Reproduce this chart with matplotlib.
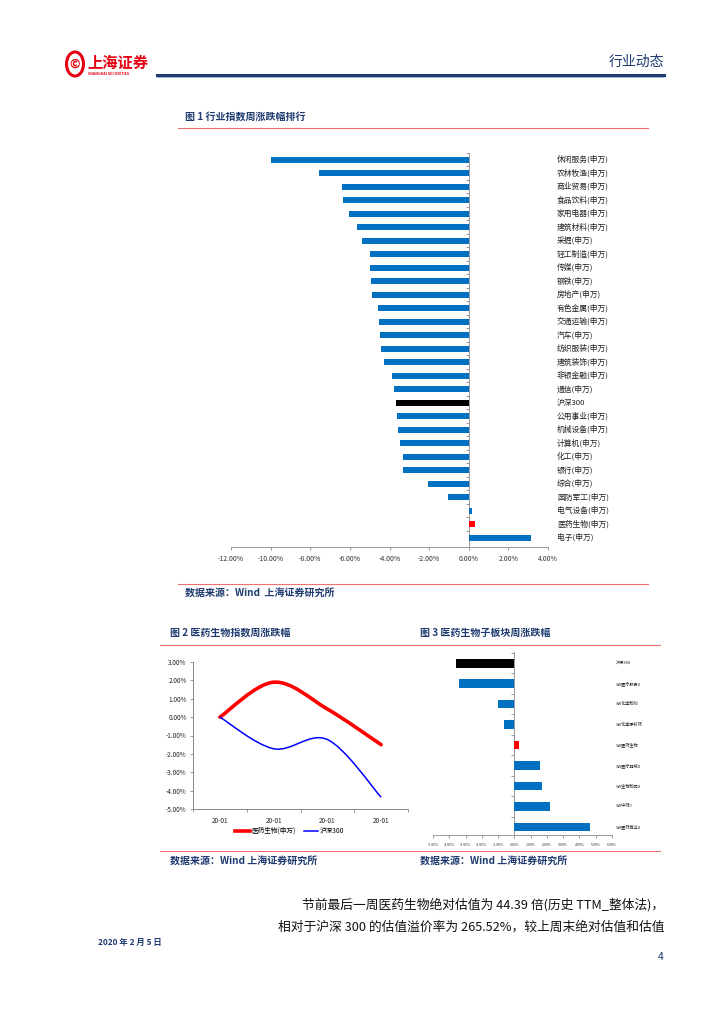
import matplotlib
matplotlib.use("Agg")
import matplotlib.pyplot as plt
from matplotlib.path import Path
from matplotlib.patches import PathPatch, Circle
import matplotlib.transforms as mtransforms

plt.rcParams['font.family'] = ['Noto Sans CJK SC', 'DejaVu Sans']

# figure 1: industry weekly change (%)
industries = ['休闲服务(申万)', '农林牧渔(申万)', '商业贸易(申万)', '食品饮料(申万)', '家用电器(申万)',
              '建筑材料(申万)', '采掘(申万)', '轻工制造(申万)', '传媒(申万)', '钢铁(申万)',
              '房地产(申万)', '有色金属(申万)', '交通运输(申万)', '汽车(申万)', '纺织服装(申万)',
              '建筑装饰(申万)', '非银金融(申万)', '通信(申万)', '沪深300', '公用事业(申万)',
              '机械设备(申万)', '计算机(申万)', '化工(申万)', '银行(申万)', '综合(申万)',
              '国防军工(申万)', '电气设备(申万)', '医药生物(申万)', '电子(申万)']
industry_chg = [-10.0, -7.58, -6.40, -6.36, -6.03, -5.66, -5.40, -5.00, -4.97, -4.92,
                -4.88, -4.58, -4.53, -4.48, -4.42, -4.29, -3.87, -3.79, -3.67, -3.64,
                -3.59, -3.45, -3.33, -3.30, -2.07, -1.03, 0.15, 0.33, 3.14]

# figure 2: index weekly trend (%)
dates = ['20-01', '20-01', '20-01', '20-01']
pharma_line = [0.0, 1.90, 0.44, -1.50]
hs300_line = [0.0, -1.72, -1.22, -4.36]

# figure 3: pharma sub-sector weekly change (%)
sub_sectors = ['沪深300', 'SW医疗服务II', 'SW化学制剂', 'SW化学原料药', 'SW医药生物',
               'SW医疗器械II', 'SW生物制品II', 'SW中药II', 'SW医药商业II']
sub_chg = [-3.59, -3.43, -0.98, -0.65, 0.31, 1.57, 1.67, 2.18, 4.67]

W, H = 724, 1024
NAVY = '#1f3b70'
BLUE = '#0070c0'
PINK = '#f07070'


def fx(px):
    return px / W


def fy(py):
    return 1 - py / H


def bar_colors(names):
    cols = []
    for n in names:
        if n == '沪深300':
            cols.append('black')
        elif '医药生物' in n:
            cols.append('red')
        else:
            cols.append(BLUE)
    return cols


def hline(fig, x0, x1, y, color, lw):
    fig.add_artist(plt.Line2D([fx(x0), fx(x1)], [fy(y), fy(y)], color=color, lw=lw,
                              transform=fig.transFigure))


def smooth_path(xs, ys):
    # Excel-like smoothed line: Catmull-Rom segments as cubic Bezier curves
    pts = list(zip(xs, ys))
    verts = [pts[0]]
    codes = [Path.MOVETO]
    n = len(pts)
    for i in range(n - 1):
        p0 = pts[max(i - 1, 0)]
        p1 = pts[i]
        p2 = pts[i + 1]
        p3 = pts[min(i + 2, n - 1)]
        c1 = (p1[0] + (p2[0] - p0[0]) / 6, p1[1] + (p2[1] - p0[1]) / 6)
        c2 = (p2[0] - (p3[0] - p1[0]) / 6, p2[1] - (p3[1] - p1[1]) / 6)
        verts += [c1, c2, p2]
        codes += [Path.CURVE4] * 3
    return Path(verts, codes)


def draw_hbar(fig, rect, names, values, xlim, xticks, tick_fs, label_fs, label_x, ylim, bar_h):
    ax = fig.add_axes(rect)
    pos = list(range(len(names)))
    ax.barh(pos, values, height=bar_h, color=bar_colors(names), zorder=3)
    ax.set_xlim(*xlim)
    ax.set_ylim(*ylim)
    ax.set_xticks(xticks)
    ax.set_xticklabels(['%.2f%%' % t for t in xticks], fontsize=tick_fs, color='#333333')
    ax.set_yticks([p + 0.5 for p in pos[:-1]] + [-0.5])
    ax.set_yticklabels([])
    ax.tick_params(axis='y', length=2, width=0.6, color='#888888', direction='out')
    ax.tick_params(axis='x', length=2.5, width=0.6, color='#888888', pad=3)
    for s in ['top', 'right']:
        ax.spines[s].set_visible(False)
    ax.spines['left'].set_position(('data', 0))
    for s in ['left', 'bottom']:
        ax.spines[s].set_color('#999999')
        ax.spines[s].set_linewidth(0.7)
    trans = mtransforms.blended_transform_factory(ax.transAxes, ax.transData)
    for p, n in zip(pos, names):
        ax.text(label_x, p, n, transform=trans, fontsize=label_fs, va='center', ha='left',
                color='#222222')
    return ax


def main():
    fig = plt.figure(figsize=(W / 100, H / 100), dpi=100)

    # header
    fig.add_artist(Circle((fx(75), fy(64)), 8.5 / W, transform=fig.transFigure,
                          facecolor='none', edgecolor='#e60012', lw=2.2))
    fig.text(fx(75), fy(64), '©', fontsize=9, color='#e60012', ha='center', va='center',
             fontweight='bold')
    fig.text(fx(87), fy(63), '上海证券', fontsize=11, color='#e60012', ha='left', va='center',
             fontweight='bold')
    fig.text(fx(88), fy(74), 'SHANGHAI SECURITIES', fontsize=2.6, color='#e60012', ha='left',
             va='center', fontweight='bold')
    fig.text(fx(664), fy(62), '行业动态', fontsize=10, color=NAVY, ha='right', va='center')
    hline(fig, 157, 664, 75, NAVY, 2.2)
    hline(fig, 157, 664, 77, '#8fa6c8', 0.6)

    # figure 1
    fig.text(fx(185), fy(117), '图 1 行业指数周涨跌幅排行', fontsize=7.2, color=NAVY,
             fontweight='bold', ha='left', va='center')
    hline(fig, 178, 648, 128, PINK, 0.8)
    draw_hbar(fig, [fx(231), fy(547), fx(548) - fx(231), fy(153) - fy(547)],
              industries, industry_chg, (-12, 4), list(range(-12, 5, 2)),
              5, 5.6, 1.028, (28.7, -0.5), 0.45)
    hline(fig, 178, 648, 584, PINK, 0.8)
    fig.text(fx(185), fy(594), '数据来源：Wind  上海证券研究所', fontsize=7.2, color=NAVY,
             fontweight='bold', style='italic', ha='left', va='center')

    # figure 2
    fig.text(fx(170), fy(633), '图 2 医药生物指数周涨跌幅', fontsize=7.2, color=NAVY,
             fontweight='bold', ha='left', va='center')
    hline(fig, 160, 410, 645, PINK, 0.8)
    ax2 = fig.add_axes([fx(193), fy(809), fx(408) - fx(193), fy(662) - fy(809)])
    xs = list(range(len(dates)))
    ax2.add_patch(PathPatch(smooth_path(xs, pharma_line), facecolor='none', edgecolor='red',
                            lw=2.6, capstyle='round'))
    ax2.add_patch(PathPatch(smooth_path(xs, hs300_line), facecolor='none', edgecolor='blue',
                            lw=1.1))
    ax2.plot([], [], color='red', lw=2.6, label='医药生物(申万)')
    ax2.plot([], [], color='blue', lw=1.1, label='沪深300')
    ax2.set_xlim(-0.5, 3.5)
    ax2.set_ylim(-5, 3)
    ax2.set_yticks(range(-5, 4))
    ax2.set_yticklabels(['%.2f%%' % t for t in range(-5, 4)], fontsize=4.6, color='#222222')
    ax2.set_xticks(xs)
    ax2.set_xticklabels(dates, fontsize=4.6, color='#222222')
    ax2.set_xticks([-0.5, 0.5, 1.5, 2.5, 3.5], minor=True)
    ax2.tick_params(axis='x', which='major', length=0, pad=6)
    ax2.tick_params(axis='x', which='minor', length=2.5, width=0.6, color='#888888')
    ax2.tick_params(axis='y', length=2.5, width=0.6, color='#888888', pad=2)
    for s in ['top', 'right']:
        ax2.spines[s].set_visible(False)
    for s in ['left', 'bottom']:
        ax2.spines[s].set_color('#888888')
        ax2.spines[s].set_linewidth(0.7)
    ax2.legend(loc='center', bbox_to_anchor=(0.45, -0.15), ncol=2, frameon=False,
               fontsize=4.8, handlelength=2.2, columnspacing=1.2, handletextpad=0.2)

    # figure 3
    fig.text(fx(420), fy(633), '图 3 医药生物子板块周涨跌幅', fontsize=7.2, color=NAVY,
             fontweight='bold', ha='left', va='center')
    hline(fig, 410, 660, 645, PINK, 0.8)
    draw_hbar(fig, [fx(433), fy(835), fx(612) - fx(433), fy(652) - fy(835)],
              sub_sectors, sub_chg, (-5, 6), list(range(-5, 7)),
              2.6, 3.0, 1.02, (8.4, -0.55), 0.42)
    hline(fig, 160, 660, 851, PINK, 0.8)
    fig.text(fx(170), fy(862), '数据来源：Wind 上海证券研究所', fontsize=7.2, color=NAVY,
             fontweight='bold', style='italic', ha='left', va='center')
    fig.text(fx(420), fy(862), '数据来源：Wind 上海证券研究所', fontsize=7.2, color=NAVY,
             fontweight='bold', style='italic', ha='left', va='center')

    # body text
    fig.text(fx(664), fy(905), '节前最后一周医药生物绝对估值为 44.39 倍(历史 TTM_整体法)，',
             fontsize=9.2, color='#111111', ha='right', va='center')
    fig.text(fx(664), fy(927), '相对于沪深 300 的估值溢价率为 265.52%，较上周末绝对估值和估值',
             fontsize=9.2, color='#111111', ha='right', va='center')
    fig.text(fx(98), fy(942), '2020 年 2 月 5 日', fontsize=6, color=NAVY, fontweight='bold',
             ha='left', va='center')
    fig.text(fx(664), fy(957), '4', fontsize=7.5, color=NAVY, ha='right', va='center')

    fig.savefig('out.png', dpi=100)


if __name__ == "__main__":
    main()
